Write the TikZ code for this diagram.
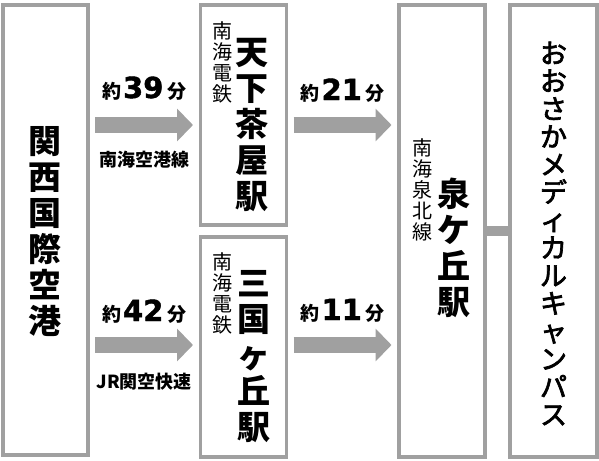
\documentclass[tikz,border=0pt]{standalone}
\usepackage{fontspec}
\newfontfamily\jpfont{Noto Sans CJK JP}
\newfontfamily\jpmedium[FakeBold=2.5]{Noto Sans CJK JP}
\newfontfamily\numfont[FakeBold=1.5]{DejaVu Sans}
\usetikzlibrary{arrows.meta}
\definecolor{framegray}{RGB}{160,160,160}
\newcommand\mins[1]{約\kern2pt{\numfont\bfseries\fontsize{29}{29}\selectfont #1}\kern4pt 分}

\begin{document}
\begin{tikzpicture}[x=1pt, y=-1pt,
		stationbox/.style={draw=framegray, line width=3.5pt, outer sep=0pt, inner sep=0pt, minimum width=86pt},
		bigname/.style={font=\jpfont\bfseries\fontsize{33}{36}\selectfont, align=center, inner sep=0pt},
		linename/.style={font=\jpfont\fontsize{20}{21}\selectfont, align=center, inner sep=0pt},
		campusname/.style={font=\jpmedium\fontsize{27}{27.8}\selectfont, align=center, inner sep=0pt},
		flowarrow/.style={draw=framegray, line width=16pt, -{Triangle[length=16pt,width=32pt]}, shorten <=7pt, shorten >=7.5pt},
		timelabel/.style={font=\jpfont\bfseries\fontsize{19}{19}\selectfont, anchor=base, inner sep=0pt},
		routelabel/.style={font=\jpfont\bfseries\fontsize{18}{18}\selectfont, anchor=base, inner sep=0pt}]
	\useasboundingbox (0,0) rectangle (599,460);
	\node[stationbox, minimum width=85pt, minimum height=450pt] (kix) at (45.5,230) {};
	\node[stationbox, minimum height=220pt] (tenga) at (243.5,115) {};
	\node[stationbox, minimum height=220pt] (mikuni) at (243.5,347) {};
	\node[stationbox, minimum height=452pt] (izumi) at (442,231) {};
	\node[stationbox, minimum width=87pt, minimum height=452pt] (campus) at (553.5,231) {};
	\node[bigname] (kixname) at (45,232) {関\\西\\国\\際\\空\\港};
	\node[bigname] (tenganame) at (252,125) {天\\下\\茶\\屋\\駅};
	\node[linename] (tengaline) at (222,62.5) {南\\海\\電\\鉄};
	\node[bigname] (mikuniname) at (254,356.5) {三\\国\\ヶ\\丘\\駅};
	\node[linename] (mikuniline) at (222,293) {南\\海\\電\\鉄};
	\node[bigname] (izuminame) at (454,247.5) {泉\\ケ\\丘\\駅};
	\node[linename] (izumiline) at (422,190) {南\\海\\泉\\北\\線};
	\node[campusname] (campustext) at (553.5,233.5) {お\\お\\さ\\か\\メ\\デ\\ィ\\カ\\ル\\キ\\ャ\\ン\\パ\\ス};
	\coordinate (upper) at (0,125);
	\coordinate (lower) at (0,345);
	\coordinate (link) at (0,231);
	\draw[flowarrow] (kix.east |- upper) -- (tenga.west |- upper)
		node[timelabel, midway, yshift=27pt] {\mins{39}}
		node[routelabel, midway, yshift=-41pt] {南海空港線};
	\draw[flowarrow] (kix.east |- lower) -- (mikuni.west |- lower)
		node[timelabel, midway, yshift=24pt] {\mins{42}}
		node[routelabel, midway, yshift=-43pt] {JR関空快速};
	\draw[flowarrow] (tenga.east |- upper) -- (izumi.west |- upper)
		node[timelabel, midway, yshift=25pt] {\mins{21}};
	\draw[flowarrow] (mikuni.east |- lower) -- (izumi.west |- lower)
		node[timelabel, midway, yshift=25pt] {\mins{11}};
	\draw[draw=framegray, line width=10pt] (izumi.east |- link) -- (campus.west |- link);
\end{tikzpicture}
\end{document}
